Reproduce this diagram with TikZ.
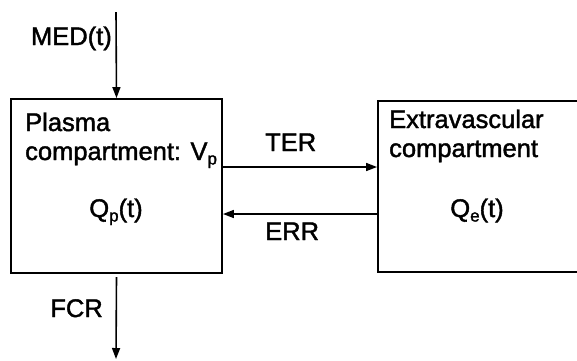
\documentclass[tikz,border=0pt]{standalone}
\usepackage{fontspec}
\setmainfont{Liberation Sans}
\newfontfamily\diafont[FakeBold=1.6]{Liberation Sans}
\usetikzlibrary{arrows.meta}
\newcommand\lowsub[1]{\raisebox{-4.5pt}{\fontsize{17}{17}\selectfont #1}}
\begin{document}
\begin{tikzpicture}[x=1pt,y=-1pt,
  every node/.style={font=\diafont\fontsize{25.5}{28}\selectfont, inner sep=0pt},
  box/.style={draw, line width=1.9pt, rectangle},
  arr/.style={line width=1.6pt, -{Triangle[length=11pt,width=8pt]}},
  lbl/.style={anchor=base west}]
\clip (0,0) rectangle (577,360);
\fill[white] (0,0) rectangle (577,360);
% boxes
\node[box, minimum width=211, minimum height=174] (plasma) at (116.5,186) {};
\node[box, minimum width=240, minimum height=171] (extra) at (498,186.5) {};
% texts in plasma box
\node[lbl] (t1) at (25,131) {Plasma};
\node[lbl] (t2) at (25,160) {compartment: V\lowsub{p}};
\node[anchor=base] (qp) at (116,217) {Q\lowsub{p}(t)};
% texts in extravascular box
\node[lbl] (t3) at (389,128) {Extravascular};
\node[lbl] (t4) at (389,157) {compartment};
\node[anchor=base] (qe) at (477,217) {Q\lowsub{e}(t)};
% flow labels
\node[anchor=base east] (med) at (112,45) {MED(t)};
\node[anchor=base west] (ter) at (265,151) {TER};
\node[anchor=base west] (err) at (265,240) {ERR};
\node[anchor=base east] (fcr) at (103,317) {FCR};
% free ends
\coordinate (medsrc) at (116,12);
\coordinate (fcrdst) at (116,359);
% connectors
\draw[arr] (medsrc) -- (plasma.north);
\draw[arr] (plasma.south |- 0,277) -- (fcrdst);
\draw[arr] (plasma.east |- 0,167) -- (extra.west |- 0,167);
\draw[arr] (extra.west |- 0,214) -- (plasma.east |- 0,214);
\end{tikzpicture}
\end{document}
